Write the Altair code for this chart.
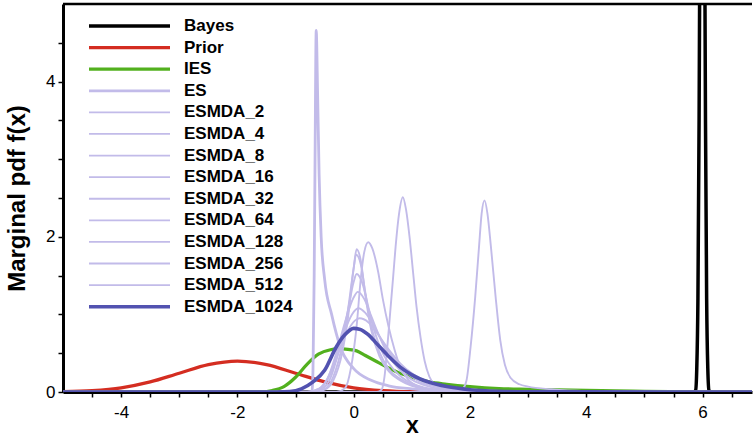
import altair as alt
import pandas as pd

# ---------------- data ----------------
series_names = ["Bayes", "Prior", "IES", "ES", "ESMDA_2", "ESMDA_4", "ESMDA_8",
                "ESMDA_16", "ESMDA_32", "ESMDA_64", "ESMDA_128", "ESMDA_256",
                "ESMDA_512", "ESMDA_1024"]

bayes_x = [-5.0, 5.85, 5.88, 5.90, 5.92, 5.94, 5.96, 5.995, 6.03, 6.05, 6.07, 6.09, 6.11, 6.14, 6.85]
bayes_y = [0, 0, 0.02, 0.3, 1.2, 3.5, 7.0, 10.6, 7.0, 3.5, 1.2, 0.3, 0.02, 0, 0]

prior_x = [-5, -4.5, -4, -3.5, -3, -2.5, -2, -1.5, -1, -0.5, 0, 0.5, 1, 1.5, 2, 2.5, 3, 6.85]
prior_y = [0.004, 0.018, 0.054, 0.13, 0.242, 0.352, 0.399, 0.352, 0.242, 0.13, 0.054, 0.018,
           0.004, 0.001, 0.0001, 0, 0, 0]

ies_x = [-5, -2, -1.6, -1.4, -1.2, -1.0, -0.8, -0.6, -0.4, -0.25, -0.1, 0.05, 0.2, 0.4, 0.6,
         0.8, 1.0, 1.3, 1.6, 2.0, 2.5, 3.0, 3.5, 4.0, 4.5, 5.0, 6.0, 6.85]
ies_y = [0, 0, 0.003, 0.02, 0.07, 0.19, 0.36, 0.49, 0.545, 0.56, 0.55, 0.53, 0.47, 0.39, 0.31,
         0.24, 0.19, 0.13, 0.10, 0.07, 0.045, 0.035, 0.027, 0.02, 0.014, 0.008, 0.003, 0.001]

es_x = [-5, -0.72, -0.70, -0.68, -0.665, -0.645, -0.62, -0.595, -0.56, -0.5, -0.38, -0.23,
        0.0, 0.3, 0.6, 1.0, 1.5, 2.0, 2.5, 6.85]
es_y = [0, 0, 0.3, 1.5, 3.0, 4.66, 3.8, 2.8, 2.0, 1.45, 1.0, 0.58, 0.3, 0.15, 0.08, 0.04,
        0.015, 0.005, 0, 0]

esmda2_x = [-5, 1.8, 1.87, 1.94, 2.01, 2.09, 2.155, 2.2, 2.25, 2.3, 2.36, 2.44, 2.52, 2.6,
            2.7, 2.85, 3.0, 3.4, 4.0, 5.0, 6.85]
esmda2_y = [0, 0, 0.03, 0.15, 0.58, 1.23, 1.87, 2.3, 2.47, 2.3, 1.87, 1.23, 0.67, 0.35,
            0.18, 0.1, 0.07, 0.035, 0.01, 0, 0]

esmda4_x = [-5, 0.4, 0.48, 0.53, 0.58, 0.63, 0.68, 0.72, 0.78, 0.845, 0.9, 0.96, 1.02, 1.08,
            1.15, 1.22, 1.3, 1.4, 1.55, 1.8, 2.2, 6.85]
esmda4_y = [0, 0, 0.03, 0.2, 0.6, 1.05, 1.5, 1.87, 2.3, 2.51, 2.35, 2.0, 1.55, 1.1,
            0.7, 0.4, 0.2, 0.09, 0.035, 0.01, 0, 0]

esmda8_x = [-5, -0.3, -0.15, -0.05, 0.05, 0.12, 0.18, 0.25, 0.32, 0.42, 0.5, 0.6, 0.7, 0.8,
            0.95, 1.2, 1.6, 2.0, 6.85]
esmda8_y = [0, 0, 0.05, 0.3, 0.85, 1.45, 1.8, 1.93, 1.85, 1.55, 1.2, 0.84, 0.55, 0.32,
            0.15, 0.05, 0.01, 0, 0]

esmda16_x = [-5, -0.7, -0.5, -0.35, -0.2, -0.1, 0.0, 0.05, 0.12, 0.2, 0.3, 0.45, 0.6, 0.8,
             1.0, 1.3, 1.7, 2.2, 6.85]
esmda16_y = [0, 0, 0.03, 0.15, 0.5, 0.95, 1.6, 1.84, 1.7, 1.25, 0.8, 0.45, 0.27, 0.15,
             0.08, 0.035, 0.01, 0, 0]

esmda32_x = [-5, -0.7, -0.5, -0.35, -0.2, -0.1, 0.0, 0.04, 0.12, 0.2, 0.3, 0.45, 0.6, 0.8,
             1.0, 1.3, 1.7, 2.2, 6.85]
esmda32_y = [0, 0, 0.04, 0.2, 0.6, 1.05, 1.6, 1.77, 1.65, 1.28, 0.85, 0.5, 0.3, 0.17,
             0.09, 0.04, 0.012, 0, 0]

esmda64_x = [-5, -0.75, -0.55, -0.4, -0.25, -0.1, 0.0, 0.05, 0.15, 0.25, 0.35, 0.5, 0.7,
             0.9, 1.2, 1.6, 2.2, 6.85]
esmda64_y = [0, 0, 0.04, 0.18, 0.55, 1.05, 1.42, 1.52, 1.4, 1.1, 0.8, 0.5, 0.28,
             0.15, 0.06, 0.02, 0, 0]

esmda128_x = [-5, -0.8, -0.6, -0.45, -0.3, -0.15, 0.0, 0.07, 0.18, 0.3, 0.45, 0.6, 0.8,
              1.0, 1.3, 1.7, 2.3, 6.85]
esmda128_y = [0, 0, 0.04, 0.17, 0.5, 0.9, 1.22, 1.29, 1.2, 0.98, 0.7, 0.47, 0.28,
              0.16, 0.07, 0.02, 0, 0]

esmda256_x = [-5, -0.75, -0.58, -0.45, -0.3, -0.17, -0.03, 0.08, 0.2, 0.35, 0.5, 0.7, 0.9,
              1.1, 1.4, 1.8, 2.4, 6.85]
esmda256_y = [0, 0, 0.04, 0.16, 0.42, 0.75, 1.0, 1.08, 1.02, 0.85, 0.64, 0.42, 0.26,
              0.15, 0.07, 0.02, 0, 0]

esmda512_x = [-5, -0.8, -0.6, -0.47, -0.33, -0.15, 0.02, 0.1, 0.25, 0.4, 0.6, 0.8, 1.0,
              1.3, 1.7, 2.2, 2.8, 6.85]
esmda512_y = [0, 0, 0.04, 0.15, 0.38, 0.72, 0.92, 0.95, 0.9, 0.76, 0.55, 0.37, 0.24,
              0.12, 0.04, 0.01, 0, 0]

esmda1024_x = [-5, -1.3, -1.1, -0.9, -0.7, -0.5, -0.3, -0.15, 0.0, 0.1, 0.25, 0.4, 0.6, 0.8,
               1.0, 1.3, 1.6, 2.0, 2.5, 3.0, 4.0, 6.85]
esmda1024_y = [0, 0, 0.005, 0.04, 0.13, 0.28, 0.58, 0.74, 0.82, 0.81, 0.74, 0.62, 0.46, 0.32,
               0.22, 0.125, 0.07, 0.03, 0.01, 0.004, 0.001, 0]

x_tick_values = [-4.5, -4, -3.5, -3, -2.5, -2, -1.5, -1, -0.5, 0, 0.5, 1, 1.5, 2, 2.5, 3,
                 3.5, 4, 4.5, 5, 5.5, 6, 6.5]
y_tick_values = [0, 0.5, 1, 1.5, 2, 2.5, 3, 3.5, 4, 4.5]
x_major_ticks = [-4, -2, 0, 2, 4, 6]
y_major_ticks = [0, 2, 4]

# ---------------- styles ----------------
LIGHT = "#c2bbe9"
series_colors = ["#000000", "#d42d21", "#52b01e", LIGHT] + [LIGHT] * 9 + ["#5252b0"]
series_widths = [3.5, 3.2, 3.2, 2.8] + [1.9] * 9 + [3.6]
legend_widths = [3.5, 3.2, 3.2, 2.8] + [1.8] * 9 + [3.6]

curve_xy = {
    "Bayes": (bayes_x, bayes_y), "Prior": (prior_x, prior_y), "IES": (ies_x, ies_y),
    "ES": (es_x, es_y), "ESMDA_2": (esmda2_x, esmda2_y), "ESMDA_4": (esmda4_x, esmda4_y),
    "ESMDA_8": (esmda8_x, esmda8_y), "ESMDA_16": (esmda16_x, esmda16_y),
    "ESMDA_32": (esmda32_x, esmda32_y), "ESMDA_64": (esmda64_x, esmda64_y),
    "ESMDA_128": (esmda128_x, esmda128_y), "ESMDA_256": (esmda256_x, esmda256_y),
    "ESMDA_512": (esmda512_x, esmda512_y), "ESMDA_1024": (esmda1024_x, esmda1024_y),
}

rows = []
for name, (xs, ys) in curve_xy.items():
    for i, (xv, yv) in enumerate(zip(xs, ys)):
        rows.append({"series": name, "x": xv, "y": yv, "i": i})
curves_df = pd.DataFrame(rows)

W, H = 689, 388
FONT = "Liberation Sans"

x_scale = alt.Scale(domain=[-5, 6.85], nice=False, zero=False)
y_scale = alt.Scale(domain=[0, 5], nice=False)

x_axis = alt.Axis(values=x_tick_values, ticks=True, tickSize=5, tickWidth=1.5,
                  tickColor="black", labelPadding=7,
                  labelFontSize=17, labelColor="black", labelFont=FONT,
                  labelExpr="datum.value % 2 == 0 ? ('' + datum.value) : ''", grid=False,
                  domainColor="black", domainWidth=3,
                  title="x", titleFontSize=23, titleFontWeight="bold", titleColor="black",
                  titleFont=FONT, titleX=349, titleY=40, titleBaseline="alphabetic",
                  titleAlign="center")
y_axis = alt.Axis(values=y_tick_values, ticks=True, tickSize=5, tickWidth=1.5,
                  tickColor="black", labelPadding=3,
                  labelFontSize=17, labelColor="black", labelFont=FONT,
                  labelExpr="datum.value % 2 == 0 ? ('' + datum.value) : ''", grid=False,
                  domainColor="black", domainWidth=3,
                  title="Marginal pdf f(x)", titleFontSize=24, titleFontWeight="bold",
                  titleColor="black", titleFont=FONT, titleX=-39, titleY=194,
                  titleBaseline="alphabetic", titleAlign="center")

X = alt.X("x:Q", scale=x_scale, axis=x_axis)
Y = alt.Y("y:Q", scale=y_scale, axis=y_axis)

layers = []
for idx, name in enumerate(series_names):
    layers.append(
        alt.Chart(curves_df).transform_filter(alt.datum.series == name)
        .mark_line(color=series_colors[idx], strokeWidth=series_widths[idx],
                   interpolate="monotone", clip=True)
        .encode(x=X, y=Y, order="i:Q")
    )

# top frame line
frame_df = pd.DataFrame({"k": ["top"]})
layers.append(alt.Chart(frame_df).mark_rule(color="black", strokeWidth=2.5)
              .encode(x=alt.value(0), x2=alt.value(W), y=alt.value(0)))

# ---------------- legend drawn inside the plot (layout positions in pixels) ----------------
legend_df = pd.DataFrame({"series": series_names})
ROW0, ROWSTEP = 22.0, 280.7 / 13
for idx, name in enumerate(series_names):
    ry = ROW0 + idx * ROWSTEP
    layers.append(
        alt.Chart(legend_df).transform_filter(alt.datum.series == name)
        .mark_rule(color=series_colors[idx], strokeWidth=legend_widths[idx])
        .encode(y=alt.value(ry), x=alt.value(26), x2=alt.value(107))
    )
    layers.append(
        alt.Chart(legend_df).transform_filter(alt.datum.series == name)
        .mark_text(align="left", baseline="middle", fontSize=17, fontWeight="bold",
                   font=FONT, color="black")
        .encode(y=alt.value(ry), x=alt.value(121), text="series:N")
    )

chart = (
    alt.layer(*layers)
    .properties(width=W, height=H, autosize="none",
                padding={"left": 63, "top": 4, "right": 2, "bottom": 46},
                background="white")
    .configure_view(stroke=None)
)

chart.save("out.html", embed_options={"renderer": "svg", "actions": False})
